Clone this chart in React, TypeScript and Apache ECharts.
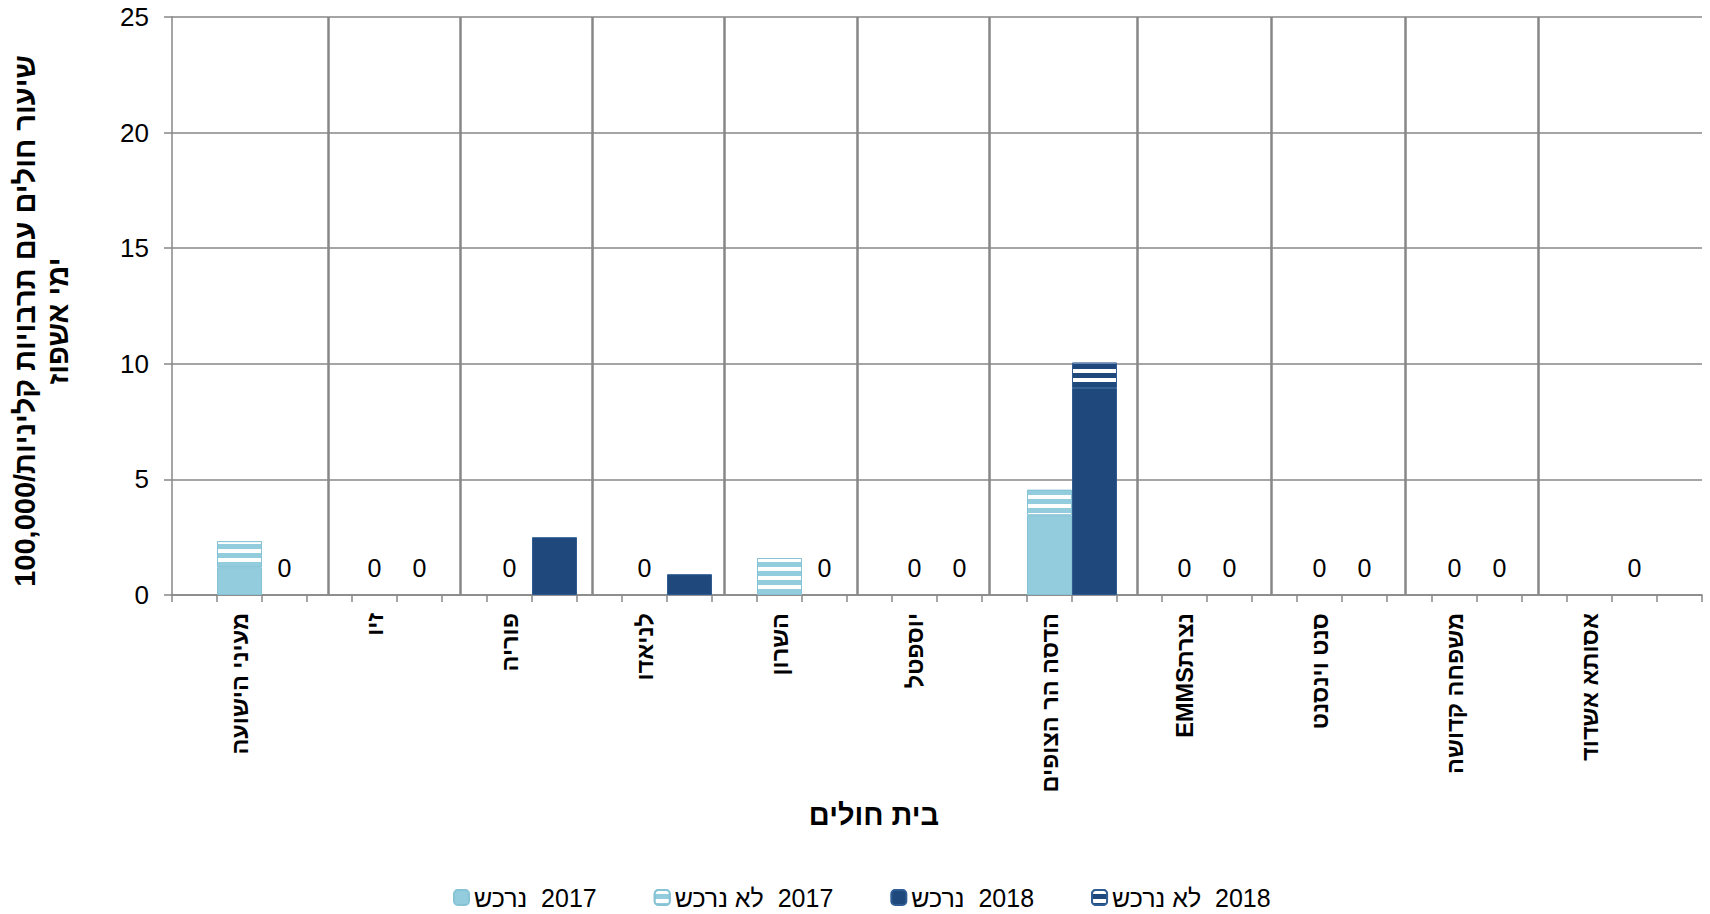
import React, { useEffect, useRef } from 'react';
import * as echarts from 'echarts';

// ---- data ----
const hospitals = [
  'מעיני הישועה',
  'זיו',
  'פוריה',
  'לניאדו',
  'השרון',
  'יוספטל',
  'הדסה הר הצופים',
  'EMMSנצרת',
  'סנט וינסנט',
  'משפחה קדושה',
  'אסותא אשדוד',
];
const bought2017: (number | null)[] = [1.2, 0, 0, 0, 0, 0, 3.45, 0, 0, 0, null];
const notBought2017: (number | null)[] = [1.13, 0, 0, 0, 1.6, 0, 1.1, 0, 0, 0, null];
const bought2018: (number | null)[] = [0, 0, 2.5, 0.9, 0, 0, 8.95, 0, 0, 0, 0];
const notBought2018: (number | null)[] = [0, 0, 0, 0, 0, 0, 1.1, 0, 0, 0, 0];
const seriesNames = ['2017 נרכש', '2017 לא נרכש', '2018 נרכש', '2018 לא נרכש'];
const yMin = 0;
const yMax = 25;
const yStep = 5;
const yTitle = 'שיעור חולים עם תרבויות קליניות/100,000\nימי אשפוז';
const xTitle = 'בית חולים';
// hospital separators (in slot units on the category axis)
const separatorSlots = [3.48, 6.41, 9.33, 12.28, 15.23, 18.16, 21.44, 24.43, 27.4, 30.35];

// ---- slot layout: [blank, (2017, 2018, blank) x hospitals] ----
const SLOTS_PER_HOSPITAL = 3;
const slotCount = 1 + hospitals.length * SLOTS_PER_HOSPITAL;
const slotKeys = Array.from({ length: slotCount }, (_, i) => 'slot' + i);
const slotLabels = slotKeys.map((_, i) =>
  i % SLOTS_PER_HOSPITAL === 1 ? hospitals[(i - 1) / SLOTS_PER_HOSPITAL] : ''
);

function spread(values: (number | null)[], offset: number) {
  const arr: any[] = new Array(slotCount).fill('-');
  values.forEach((v, h) => {
    const idx = SLOTS_PER_HOSPITAL * h + offset;
    if (v === null) arr[idx] = '-';
    else if (v === 0) arr[idx] = { value: 0, itemStyle: { borderWidth: 0 } };
    else arr[idx] = v;
  });
  return arr;
}

const FONT = "'Liberation Sans', Arial, sans-serif";
const GRID_COLOR = '#878787';
const LIGHT = '#93CDDD';
const NAVY = '#1F497D';

const stripeDecal = {
  symbol: 'rect',
  symbolSize: 1,
  symbolKeepAspect: false,
  dashArrayX: [20, 0],
  dashArrayY: [4, 5],
  rotation: 0,
  color: '#ffffff',
};

function zeroLabel(bought: (number | null)[], notBought: (number | null)[], offset: number) {
  return {
    show: true,
    position: 'top',
    distance: 15,
    fontSize: 25,
    fontFamily: FONT,
    color: '#000',
    formatter: (p: any) => {
      const h = (p.dataIndex - offset) / SLOTS_PER_HOSPITAL;
      const b = bought[h];
      const n = notBought[h];
      if (b === null || n === null) return '';
      return (b as number) + (n as number) === 0 ? '0' : '';
    },
  };
}

export default function App() {
  const ref = useRef<HTMLDivElement>(null);

  useEffect(() => {
    document.body.style.margin = '0';
    if (!ref.current) return;
    const chart = echarts.init(ref.current, undefined, { renderer: 'svg' });

    const barCommon = {
      type: 'bar',
      stack: 'all',
      barCategoryGap: '0%',
      barGap: '0%',
      xAxisIndex: 0,
      yAxisIndex: 0,
    };

    chart.setOption({
      animation: false,
      textStyle: { fontFamily: FONT },
      grid: { left: 169, right: 8, top: 17, bottom: 319, containLabel: false },
      legend: {
        left: 453,
        top: 885,
        padding: 0,
        itemWidth: 15,
        itemHeight: 15,
        itemGap: 57,
        textStyle: { fontSize: 25, fontFamily: FONT, color: '#000' },
        formatter: (name: string) => '\u200F' + name.replace(' ', '  '),
        data: seriesNames,
      },
      xAxis: [
        {
          type: 'category',
          data: slotKeys,
          boundaryGap: true,
          axisLine: { show: true, lineStyle: { color: GRID_COLOR, width: 1.5 } },
          axisTick: { show: true, interval: 0, length: 7, lineStyle: { color: GRID_COLOR, width: 1.5 } },
          axisLabel: {
            interval: 0,
            rotate: 90,
            margin: 18,
            fontSize: 23.5,
            fontWeight: 'bold',
            fontFamily: FONT,
            color: '#000',
            formatter: (_v: string, i: number) => slotLabels[i],
          },
          splitLine: { show: false },
          name: xTitle,
          nameLocation: 'middle',
          nameGap: 205,
          nameTextStyle: {
            fontSize: 29,
            fontWeight: 'bold',
            fontFamily: FONT,
            color: '#000',
            padding: [0, 126, 0, 0],
          },
        },
        {
          type: 'value',
          min: 0,
          max: slotCount,
          show: false,
          splitLine: { show: false },
        },
      ],
      yAxis: {
        type: 'value',
        min: yMin,
        max: yMax,
        interval: yStep,
        axisLine: { show: true, lineStyle: { color: GRID_COLOR, width: 1.5 } },
        axisTick: { show: true, length: 8, lineStyle: { color: GRID_COLOR, width: 1.5 } },
        axisLabel: { fontSize: 26, margin: 23, color: '#000', fontFamily: FONT },
        splitLine: { show: true, lineStyle: { color: GRID_COLOR, width: 1.5 } },
        name: yTitle,
        nameLocation: 'middle',
        nameRotate: 90,
        nameGap: 98,
        nameTextStyle: {
          fontSize: 29,
          fontWeight: 'bold',
          fontFamily: FONT,
          color: '#000',
          lineHeight: 33,
          align: 'center',
          padding: [0, 30, 0, 0],
        },
      },
      series: [
        {
          ...barCommon,
          name: seriesNames[0],
          data: spread(bought2017, 1),
          itemStyle: { color: LIGHT, borderColor: '#86C3D5', borderWidth: 1 },
        },
        {
          ...barCommon,
          name: seriesNames[1],
          data: spread(notBought2017, 1),
          itemStyle: { color: LIGHT, borderColor: '#86C3D5', borderWidth: 1, decal: stripeDecal },
          label: zeroLabel(bought2017, notBought2017, 1),
        },
        {
          ...barCommon,
          name: seriesNames[2],
          data: spread(bought2018, 2),
          itemStyle: { color: NAVY, borderColor: '#2E5C93', borderWidth: 1 },
        },
        {
          ...barCommon,
          name: seriesNames[3],
          data: spread(notBought2018, 2),
          itemStyle: { color: NAVY, borderColor: '#2E5C93', borderWidth: 1, decal: stripeDecal },
          label: zeroLabel(bought2018, notBought2018, 2),
        },
        {
          type: 'line',
          name: 'separators',
          xAxisIndex: 1,
          yAxisIndex: 0,
          data: [],
          silent: true,
          markLine: {
            silent: true,
            symbol: ['none', 'none'],
            label: { show: false },
            lineStyle: { color: GRID_COLOR, width: 2.5, type: 'solid' },
            emphasis: { disabled: true },
            data: separatorSlots.map((x) => ({ xAxis: x })),
          },
        },
      ],
    });

    return () => chart.dispose();
  }, []);

  return <div ref={ref} style={{ width: 1710, height: 914 }} />;
}
